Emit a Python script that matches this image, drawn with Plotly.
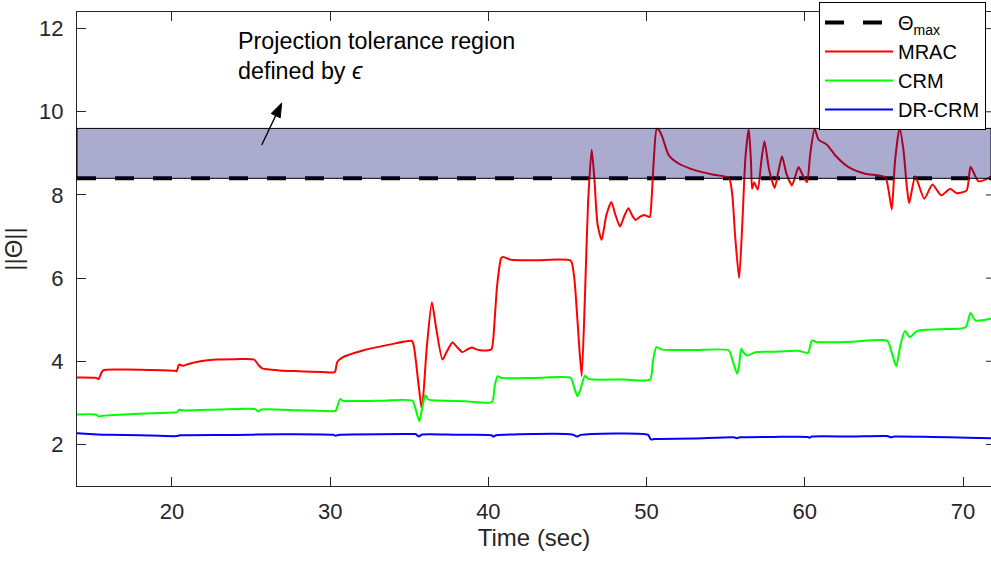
import plotly.graph_objects as go

# ---------------- data ----------------
theta_max = 8.4
tol_upper = 9.6

mrac_t = [14.0, 15.2, 15.35, 15.65, 17.0, 18.5, 20.2, 20.3, 20.45, 20.7, 21.0, 21.8, 22.8, 24.0, 25.2,
          25.45, 25.7, 26.8, 28.0, 29.5, 30.1, 30.3, 30.45, 30.76, 32.07, 33.75, 35.17, 35.3, 35.6, 35.8,
          36.1, 36.43, 36.7, 37.1, 37.4, 37.73, 38.05, 38.36, 38.65, 38.95, 39.3, 39.62, 40.19, 40.3,
          40.55, 40.8, 40.9, 41.43, 43.0, 45.2, 45.4, 45.5, 45.7, 45.9, 46.1, 46.3, 46.53, 46.7, 46.9,
          47.16, 47.45, 47.77, 48.05, 48.32, 48.6, 48.85, 49.1, 49.31, 49.6, 49.84, 50.2, 50.3, 50.45,
          50.64, 50.8, 51.0, 51.41, 52.05, 53.1, 54.15, 55.2, 55.41, 55.6, 55.85, 56.05, 56.25, 56.46,
          56.6, 56.67, 56.8, 57.03, 57.25, 57.45, 57.75, 58.1, 58.35, 58.56, 58.85, 59.19, 59.4, 59.61,
          59.9, 60.14, 60.35, 60.62, 60.87, 61.4, 61.93, 62.77, 63.82, 65.08, 65.3, 65.5, 65.7, 65.99,
          66.24, 66.45, 66.6, 66.98, 67.55, 68.07, 68.62, 69.19, 69.6, 70.23, 70.48, 70.97, 71.77]
mrac_v = [3.61, 3.60, 3.57, 3.78, 3.80, 3.79, 3.77, 3.76, 3.92, 3.89, 3.93, 4.00, 4.04, 4.05, 4.04,
          3.92, 3.83, 3.78, 3.76, 3.74, 3.73, 3.74, 3.98, 4.09, 4.26, 4.40, 4.49, 4.35, 3.40, 2.84,
          4.30, 5.42, 4.80, 4.04, 4.25, 4.45, 4.33, 4.22, 4.28, 4.33, 4.28, 4.26, 4.29, 4.50,
          5.80, 6.47, 6.51, 6.44, 6.43, 6.42, 6.10, 5.71, 4.60, 3.64, 5.50, 7.80, 9.09, 8.40, 7.30,
          6.92, 7.50, 7.83, 7.50, 7.24, 7.50, 7.68, 7.50, 7.40, 7.48, 7.52, 7.47, 7.80, 8.80,
          9.59, 9.55, 9.39, 8.95, 8.75, 8.59, 8.49, 8.41, 8.03, 7.00, 6.00, 7.30, 8.90, 9.59,
          8.80, 8.15, 8.30, 8.13, 8.80, 9.29, 8.60, 8.17, 8.60, 8.93, 8.50, 8.23, 8.45, 8.67,
          8.45, 8.31, 9.00, 9.59, 9.33, 9.21, 8.95, 8.67, 8.51, 8.43, 8.10, 7.65, 8.80, 9.61,
          9.07, 8.20, 7.80, 8.45, 7.91, 8.25, 7.99, 8.15, 8.04, 8.11, 8.68, 8.33, 8.43]

crm_t = [14.0, 15.2, 15.37, 15.6, 17.5, 20.2, 20.3, 20.48, 20.6, 23.0, 25.25, 25.46, 25.65, 28.0, 30.2,
         30.35, 30.63, 30.8, 33.0, 35.2, 35.4, 35.64, 35.85, 36.02, 36.2, 36.48, 38.5, 40.22, 40.4,
         40.58, 40.8, 43.0, 45.2, 45.4, 45.63, 45.8, 46.1, 46.3, 46.57, 48.5, 50.22, 50.4, 50.62, 51.0,
         53.0, 55.2, 55.45, 55.72, 55.85, 55.98, 56.15, 56.36, 56.89, 58.0, 59.61, 60.2, 60.45, 60.77,
         63.0, 65.21, 65.5, 65.78, 66.05, 66.33, 66.63, 67.11, 68.5, 70.16, 70.47, 70.79, 71.77]
crm_v = [2.72, 2.72, 2.67, 2.69, 2.73, 2.77, 2.77, 2.84, 2.82, 2.84, 2.85, 2.79, 2.84, 2.82, 2.80,
         2.81, 3.09, 3.05, 3.05, 3.05, 2.85, 2.56, 2.95, 3.18, 3.08, 3.06, 3.04, 3.02, 3.40,
         3.64, 3.60, 3.60, 3.60, 3.40, 3.16, 3.30, 3.65, 3.58, 3.56, 3.56, 3.56, 4.00, 4.34, 4.28,
         4.27, 4.26, 4.00, 3.70, 3.90, 4.30, 4.20, 4.14, 4.22, 4.23, 4.25, 4.20, 4.50, 4.46,
         4.47, 4.49, 4.20, 3.88, 4.40, 4.73, 4.58, 4.73, 4.77, 4.82, 5.16, 4.98, 5.02]

drcrm_t = [14.0, 15.3, 16.0, 18.0, 20.3, 20.5, 25.0, 25.3, 30.2, 30.35, 30.6, 35.0, 35.4, 35.6, 35.8,
           38.0, 40.2, 40.3, 40.5, 45.3, 45.6, 45.85, 50.1, 50.26, 50.5, 53.0, 55.5, 55.7, 55.9, 58.0,
           60.2, 60.3, 60.45, 63.0, 65.2, 65.45, 65.65, 68.0, 70.3, 71.77]
drcrm_v = [2.27, 2.24, 2.23, 2.22, 2.20, 2.22, 2.23, 2.24, 2.23, 2.21, 2.23, 2.25, 2.25, 2.19, 2.24,
           2.23, 2.22, 2.19, 2.22, 2.24, 2.19, 2.23, 2.23, 2.12, 2.13, 2.14, 2.17, 2.15, 2.17, 2.18,
           2.18, 2.16, 2.19, 2.19, 2.20, 2.17, 2.19, 2.18, 2.16, 2.15]

x_range = [14.0, 71.77]
y_range = [1.0, 12.4]
x_ticks = [20, 30, 40, 50, 60, 70]
y_ticks = [2, 4, 6, 8, 10, 12]

# ---------------- layout geometry ----------------
W, H = 991, 563
ML, MR, MT, MB = 77, 0, 12, 77
PW, PH = W - ML - MR, H - MT - MB


def px2x(px):
    return x_range[0] + (px - ML) * (x_range[1] - x_range[0]) / PW


def py2y(py):
    return y_range[1] - (py - MT) * (y_range[1] - y_range[0]) / PH


FONT = "Liberation Sans, Arial, sans-serif"
AX = "#262626"

fig = go.Figure()
fig.add_trace(go.Scatter(x=x_range, y=[theta_max, theta_max], mode="lines",
                         name="Θ<sub>max</sub>",
                         line=dict(color="black", width=4, dash="19px,19px")))
fig.add_trace(go.Scatter(x=mrac_t, y=mrac_v, mode="lines", name="MRAC",
                         line=dict(color="#ff0000", width=2, shape="spline", smoothing=0.6)))
fig.add_trace(go.Scatter(x=crm_t, y=crm_v, mode="lines", name="CRM",
                         line=dict(color="#00ff00", width=2, shape="spline", smoothing=0.6)))
fig.add_trace(go.Scatter(x=drcrm_t, y=drcrm_v, mode="lines", name="DR-CRM",
                         line=dict(color="#0000ff", width=2, shape="spline", smoothing=0.6)))

# projection tolerance band (drawn over the curves, semi-transparent)
fig.add_shape(type="rect", xref="paper", x0=0, x1=1, yref="y", y0=theta_max, y1=tol_upper,
              fillcolor="rgba(10,5,115,0.34)", line=dict(color="black", width=1), layer="above")

# right-side tick marks (the right border itself is just outside the picture)
for yt in y_ticks:
    fig.add_shape(type="line", xref="paper", x0=(986 - ML) / PW, x1=1, yref="y", y0=yt, y1=yt,
                  line=dict(color=AX, width=1))

# arrow pointing at the band (line + filled head)
tail = (261.7, 145.0)
head = (281.7, 103.0)
dx, dy = head[0] - tail[0], head[1] - tail[1]
L = (dx * dx + dy * dy) ** 0.5
ux, uy = dx / L, dy / L
nx, ny = -uy, ux
hl, hw = 14.0, 5.0
bx, by = head[0] - hl * ux, head[1] - hl * uy
fig.add_shape(type="line", xref="x", yref="y",
              x0=px2x(tail[0]), y0=py2y(tail[1]), x1=px2x(bx), y1=py2y(by),
              line=dict(color="black", width=1.3))
pts = [head, (bx + hw * nx, by + hw * ny), (bx - hw * nx, by - hw * ny)]
path = "M " + " L ".join(f"{px2x(p[0]):.5f},{py2y(p[1]):.5f}" for p in pts) + " Z"
fig.add_shape(type="path", xref="x", yref="y", path=path, fillcolor="black",
              line=dict(color="black", width=1))

fig.add_annotation(x=px2x(236), y=py2y(56), xref="x", yref="y", xanchor="left", yanchor="middle",
                   text="Projection tolerance region<br>defined by <i>ϵ</i>", showarrow=False,
                   align="left", font=dict(family=FONT, size=23.3, color="black"))

fig.update_layout(
    width=W, height=H,
    margin=dict(l=ML, r=MR, t=MT, b=MB),
    paper_bgcolor="white", plot_bgcolor="white",
    font=dict(family=FONT, color=AX),
    showlegend=True,
    legend=dict(x=(986 - ML) / PW, xanchor="right", y=1 + 10 / PH, yanchor="top",
                bgcolor="white", bordercolor="black", borderwidth=1,
                font=dict(family=FONT, size=20, color="black"), itemwidth=68,
                tracegroupgap=0),
    xaxis=dict(range=x_range, tickvals=x_ticks, ticks="inside", ticklen=9, tickcolor=AX,
               showline=True, linecolor=AX, linewidth=1, mirror="ticks", showgrid=False,
               zeroline=False, tickfont=dict(size=22, family=FONT, color=AX),
               ticklabelstandoff=6,
               title=dict(text="Time (sec)", font=dict(size=24, family=FONT, color=AX), standoff=4)),
    yaxis=dict(range=y_range, tickvals=y_ticks, ticks="inside", ticklen=9, tickcolor=AX,
               showline=True, linecolor=AX, linewidth=1, mirror=False, showgrid=False,
               zeroline=False, tickfont=dict(size=22, family=FONT, color=AX),
               ticklabelstandoff=8,
               title=dict(text="||Θ||", font=dict(size=24, family=FONT, color=AX), standoff=11)),
)

fig.write_html("out.html")
